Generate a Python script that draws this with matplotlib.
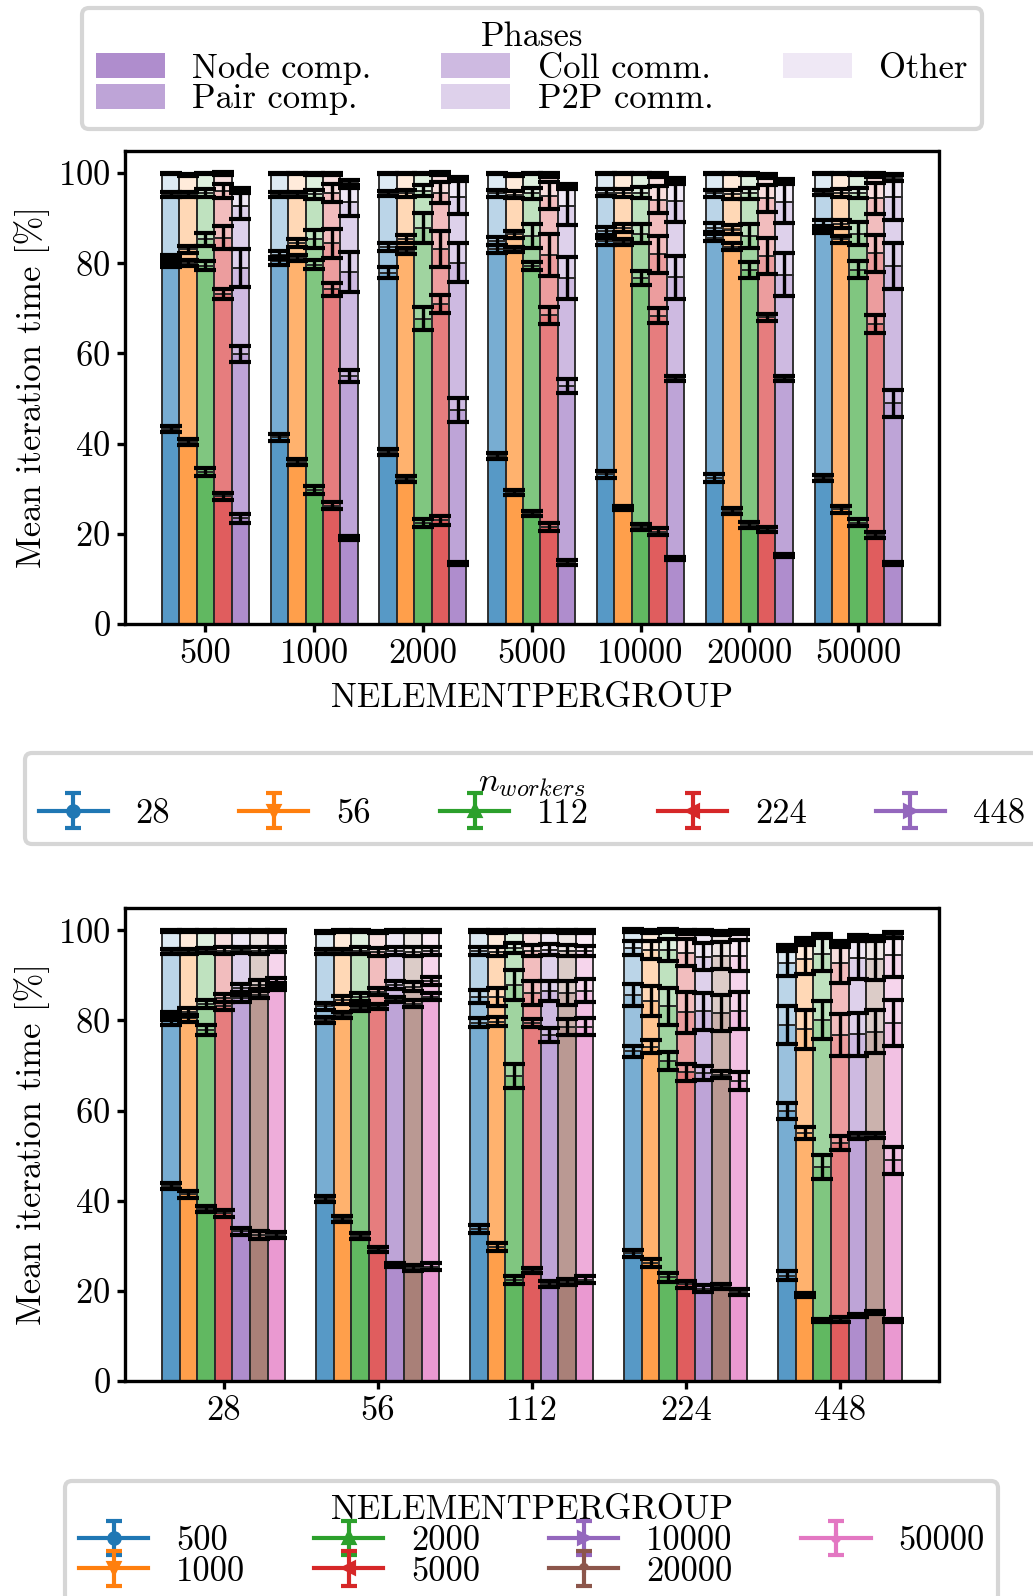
import numpy as np
import matplotlib
matplotlib.use("Agg")
import matplotlib.pyplot as plt
from matplotlib.patches import Patch
from matplotlib.colors import to_rgba

plt.rcParams["font.family"] = "serif"
plt.rcParams["font.serif"] = ["cmr10", "DejaVu Serif"]
plt.rcParams["mathtext.fontset"] = "cm"
plt.rcParams["axes.formatter.use_mathtext"] = True
plt.rcParams["font.size"] = 8.3
plt.rcParams["xtick.major.size"] = 2
plt.rcParams["ytick.major.size"] = 2
plt.rcParams["xtick.major.pad"] = 1.5
plt.rcParams["ytick.major.pad"] = 1.5
plt.rcParams["legend.labelspacing"] = -0.03
plt.rcParams["legend.borderaxespad"] = 0.0
plt.rcParams["legend.handleheight"] = 0.75

workers = ["28", "56", "112", "224", "448"]
nelem = ["500", "1000", "2000", "5000", "10000", "20000", "50000"]
phases = ["Node comp.", "Pair comp.", "Coll comm.", "P2P comm.", "Other"]

# cumulative top of each phase [%], rows = workers, cols = nelem
node_top = [[43.2, 41.4, 38.1, 37.2, 33.2, 32.4, 32.4],
            [40.4, 36.0, 32.1, 29.2, 25.7, 25.0, 25.4],
            [33.8, 29.7, 22.4, 24.5, 21.5, 22.0, 22.5],
            [28.3, 26.2, 23.0, 21.5, 20.5, 21.0, 19.8],
            [23.4, 19.1, 13.4, 13.6, 14.5, 15.2, 13.4]]
pair_top = [[80.0, 80.5, 77.9, 83.2, 84.9, 85.7, 87.5],
            [80.1, 81.2, 82.7, 83.1, 84.7, 83.7, 85.3],
            [79.5, 79.7, 67.7, 79.5, 76.8, 78.6, 78.6],
            [73.2, 74.2, 71.0, 68.5, 68.4, 68.0, 66.5],
            [59.9, 55.0, 47.5, 52.8, 54.4, 54.5, 49.0]]
coll_top = [[81.0, 81.8, 83.6, 84.9, 87.2, 87.9, 88.6],
            [83.1, 84.6, 85.3, 86.4, 87.9, 87.5, 88.8],
            [85.3, 85.3, 87.9, 86.1, 86.6, 86.1, 86.6],
            [85.7, 84.4, 83.1, 81.8, 82.0, 81.6, 82.2],
            [79.0, 78.0, 80.1, 76.8, 76.9, 77.5, 79.4]]
p2p_top = [[95.3, 95.3, 95.5, 95.5, 95.7, 95.5, 95.7],
           [95.3, 95.3, 95.5, 95.2, 95.5, 95.3, 95.5],
           [95.5, 95.3, 96.1, 95.5, 95.7, 95.5, 95.5],
           [96.1, 95.7, 95.7, 95.0, 94.1, 94.4, 94.4],
           [92.7, 93.6, 94.8, 92.7, 93.8, 93.7, 94.6]]
total_top = [[99.9, 99.9, 99.9, 99.9, 99.9, 99.9, 99.9],
             [99.6, 99.9, 99.9, 99.6, 99.9, 99.9, 99.9],
             [99.9, 99.8, 99.9, 99.9, 99.9, 99.8, 99.8],
             [99.9, 99.8, 99.9, 99.6, 99.6, 99.4, 99.6],
             [96.3, 97.9, 98.7, 97.0, 98.3, 98.2, 99.0]]

# std errors at each cumulative boundary
node_err = [[0.7, 0.7, 0.7, 0.7, 0.8, 0.8, 0.7],
            [0.7, 0.7, 0.7, 0.6, 0.5, 0.7, 0.7],
            [0.9, 0.9, 0.8, 0.6, 0.6, 0.7, 0.7],
            [0.8, 0.8, 1.0, 0.8, 0.7, 0.6, 0.7],
            [0.9, 0.5, 0.4, 0.5, 0.4, 0.4, 0.4]]
pair_err = [[0.9, 0.8, 1.2, 0.9, 0.8, 0.8, 0.8],
            [0.6, 0.6, 0.7, 0.6, 0.6, 0.8, 0.7],
            [1.0, 1.0, 2.6, 0.9, 1.5, 1.8, 1.9],
            [1.2, 1.4, 2.0, 1.9, 1.6, 0.8, 2.0],
            [1.7, 1.4, 2.7, 1.6, 0.6, 0.6, 3.0]]
coll_err = [[0.9, 0.9, 0.9, 0.9, 0.9, 1.0, 0.9],
            [0.8, 0.9, 0.9, 0.8, 0.9, 1.0, 0.9],
            [1.5, 2.0, 3.3, 2.6, 2.2, 2.6, 2.6],
            [2.5, 3.3, 4.0, 4.6, 4.1, 4.0, 4.1],
            [4.2, 4.4, 4.3, 4.7, 4.8, 4.8, 5.1]]
p2p_err = [[0.6, 0.6, 0.6, 0.7, 0.7, 0.8, 0.6],
           [0.6, 0.6, 0.8, 0.8, 0.9, 1.0, 0.9],
           [0.9, 1.0, 1.2, 1.2, 1.2, 1.2, 1.1],
           [1.6, 2.0, 2.4, 3.0, 3.0, 3.0, 3.5],
           [2.8, 3.2, 3.8, 4.3, 4.6, 4.7, 4.9]]
total_err = [[0.2, 0.2, 0.2, 0.2, 0.2, 0.2, 0.2],
             [0.3, 0.2, 0.2, 0.3, 0.2, 0.2, 0.2],
             [0.2, 0.3, 0.2, 0.2, 0.2, 0.3, 0.3],
             [0.3, 0.3, 0.3, 0.4, 0.4, 0.4, 0.4],
             [0.5, 0.5, 0.5, 0.6, 0.6, 0.6, 0.7]]

tops = np.array([node_top, pair_top, coll_top, p2p_top, total_top])
errs = np.array([node_err, pair_err, coll_err, p2p_err, total_err])

alphas = [0.75, 0.6, 0.45, 0.3, 0.15]
colors = plt.rcParams["axes.prop_cycle"].by_key()["color"]
markers = ["o", "v", "^", "<", ">", "1", "2"]


def stacked(ax, T, E, labels):
    n_ser, n_grp = T.shape[1], T.shape[2]
    x = np.arange(n_grp)
    w = 0.8 / n_ser
    handles = []
    for s in range(n_ser):
        xs = x + (s - (n_ser - 1) / 2) * w
        bottom = np.zeros(n_grp)
        for p in range(len(phases)):
            ax.bar(xs, T[p, s] - bottom, w, bottom=bottom,
                   color=to_rgba(colors[s], alphas[p]),
                   edgecolor="#2b2b2b", linewidth=0.45)
            bottom = T[p, s]
        for p in range(len(phases)):
            ax.errorbar(xs, T[p, s], yerr=E[p, s], fmt="none", ecolor="k",
                        elinewidth=0.8, capsize=2.6, capthick=1.0, zorder=3)
        # legend proxy
        h = ax.errorbar([np.nan], [np.nan], yerr=[1.0], color=colors[s],
                        marker=markers[s], ms=2.5, lw=1.0, capsize=2)
        handles.append(h)
    ax.set_xticks(x, labels)
    ax.set_ylim(0, 105)
    ax.set_yticks([0, 20, 40, 60, 80, 100])
    ax.set_ylabel("Mean iteration time [%]", labelpad=2)
    return handles


W, H = 1033, 1596
fig = plt.figure(figsize=(W / 300, H / 300), dpi=300)
left, right = 125, 938.5
ax1 = fig.add_axes([left / W, (H - 624) / H, (right - left) / W, (624 - 150.6) / H])
ax2 = fig.add_axes([left / W, (H - 1381) / H, (right - left) / W, (1381 - 907.8) / H])

h1 = stacked(ax1, tops, errs, nelem)
ax1.set_xlabel("NELEMENTPERGROUP", labelpad=3)
h2 = stacked(ax2, tops.transpose(0, 2, 1), errs.transpose(0, 2, 1), workers)

cx = (left + right) / 2 / W
phase_handles = [Patch(facecolor=to_rgba(colors[4], a), edgecolor="none") for a in alphas]
fig.legend(phase_handles, phases, title="Phases", ncol=3, loc="upper center",
           bbox_to_anchor=(cx, 1 - 8 / H))
fig.legend(h1, workers, title=r"$n_{workers}$", ncol=5, loc="upper center",
           bbox_to_anchor=(cx, 1 - 753 / H))
fig.legend(h2, nelem, title="NELEMENTPERGROUP", ncol=4, loc="upper center",
           bbox_to_anchor=(cx, 1 - 1481 / H))

fig.savefig("out.png", dpi=300)
